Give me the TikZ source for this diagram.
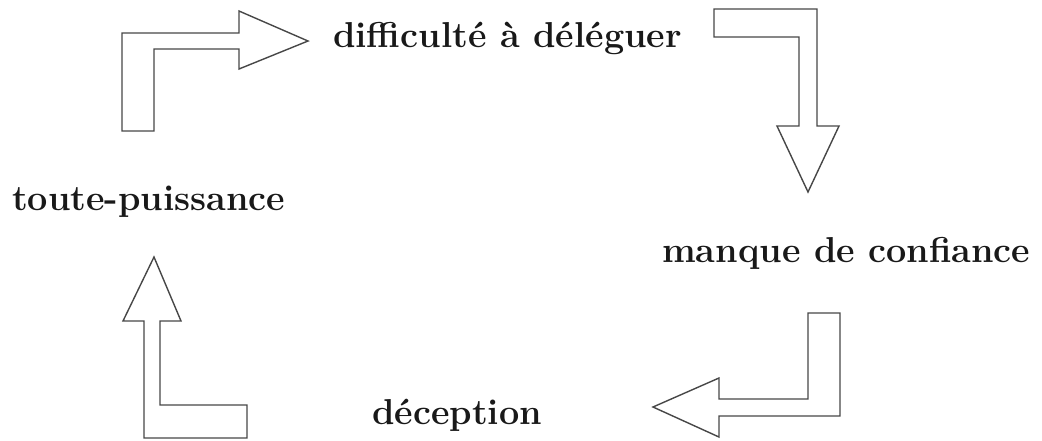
\documentclass[tikz,border=0pt]{standalone}
\usepackage{fontspec}
\begin{document}
\begin{tikzpicture}[x=1pt,y=-1pt,
  bentarrow/.style={draw=black!72, line width=1.4pt, line join=miter, fill=white},
  label/.style={anchor=base west, inner sep=0pt, font=\fontsize{36}{42}\selectfont\bfseries, text=black!90}]
  \useasboundingbox (0,0) rectangle (1042,440);

  % labels of the cycle
  \node[label] (deleg) at (333,47) {difficulté à déléguer};
  \node[label] (conf)  at (662,262) {manque de confiance};
  \node[label] (decep) at (372,424) {déception};
  \node[label] (puiss) at (12,210) {toute-puissance};

  % bent block arrows between the labels
  \draw[bentarrow] (122,131) -- (122,33) -- (239,33) -- (239,11) -- (308,41)
    -- (239,69) -- (239,49) -- (154,49) -- (154,131) -- cycle;
  \draw[bentarrow] (714,9) -- (817,9) -- (817,126) -- (839,126) -- (808,192)
    -- (777,126) -- (799,126) -- (799,37) -- (714,37) -- cycle;
  \draw[bentarrow] (840,313) -- (840,416) -- (719,416) -- (719,437) -- (653,407)
    -- (719,378) -- (719,399) -- (808,399) -- (808,313) -- cycle;
  \draw[bentarrow] (144,438) -- (144,321) -- (123,321) -- (154,257) -- (181,321)
    -- (160,321) -- (160,405) -- (247,405) -- (247,438) -- cycle;
\end{tikzpicture}
\end{document}
